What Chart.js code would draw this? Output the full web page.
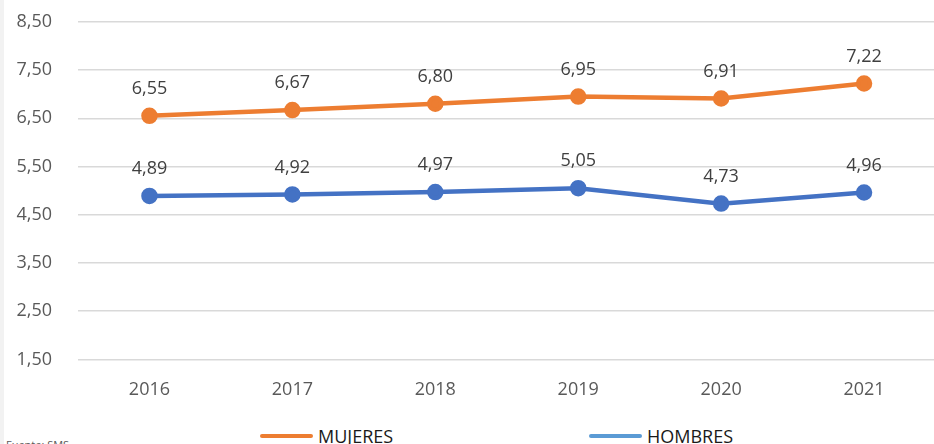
<!DOCTYPE html>
<html>
<head>
<meta charset="utf-8">
<script src="https://cdn.jsdelivr.net/npm/chart.js@4.4.1/dist/chart.umd.min.js"></script>
<style>
  html, body { margin: 0; padding: 0; width: 934px; height: 444px; overflow: hidden; background: #ffffff; font-family: "Open Sans", sans-serif; }
  #wrap { position: absolute; left: 0; top: -15px; width: 946px; height: 436px; }
  #edge { position: absolute; left: 0; top: 0; width: 4px; height: 444px; background: #f2f2f2; }
  .leg { position: absolute; top: 424px; display: flex; align-items: center; font-size: 18px; color: #1a1a1a; white-space: nowrap; }
  .leg .ln { display: inline-block; width: 53px; height: 4px; border-radius: 2px; margin-right: 5px; }
  #src { position: absolute; left: 6px; top: 437px; font-size: 11px; color: #595959; }
</style>
</head>
<body>
<div id="edge"></div>
<div id="wrap"><canvas id="c"></canvas></div>
<div class="leg" style="left:260px;"><span class="ln" style="background:#ED7D31"></span><span>MUJERES</span></div>
<div class="leg" style="left:589px;"><span class="ln" style="background:#5B9BD5"></span><span>HOMBRES</span></div>
<div id="src">Fuente: SMS</div>
<script>
const years = ["2016", "2017", "2018", "2019", "2020", "2021"];
const mujeres = [6.55, 6.67, 6.80, 6.95, 6.91, 7.22];
const hombres = [4.89, 4.92, 4.97, 5.05, 4.73, 4.96];
const yTicks = [1.5, 2.5, 3.5, 4.5, 5.5, 6.5, 7.5, 8.5];

const fmt = v => Number(v).toFixed(2).replace('.', ',');

const labelPlugin = {
  id: 'pointLabels',
  afterDatasetsDraw(chart) {
    const ctx = chart.ctx;
    ctx.save();
    ctx.font = '18px "Open Sans", sans-serif';
    ctx.fillStyle = '#404040';
    ctx.textAlign = 'center';
    ctx.textBaseline = 'middle';
    chart.data.datasets.forEach((ds, i) => {
      const meta = chart.getDatasetMeta(i);
      meta.data.forEach((pt, j) => {
        ctx.fillText(fmt(ds.data[j]), pt.x, pt.y - 27);
      });
    });
    ctx.restore();
  }
};

new Chart(document.getElementById('c'), {
  type: 'line',
  data: {
    labels: years,
    datasets: [
      { label: 'MUJERES', data: mujeres, borderColor: '#ED7D31', backgroundColor: '#ED7D31', borderWidth: 4.5, pointRadius: 6, pointHoverRadius: 6, tension: 0 },
      { label: 'HOMBRES', data: hombres, borderColor: '#4472C4', backgroundColor: '#4472C4', borderWidth: 4.5, pointRadius: 6, pointHoverRadius: 6, tension: 0 }
    ]
  },
  options: {
    responsive: true,
    maintainAspectRatio: false,
    animation: false,
    layout: { padding: { top: 6, right: 0, bottom: 0, left: 0 } },
    plugins: { legend: { display: false }, tooltip: { enabled: false } },
    scales: {
      x: {
        offset: true,
        grid: { display: false, drawTicks: false },
        border: { display: false },
        ticks: { color: '#595959', font: { family: '"Open Sans", sans-serif', size: 18 }, padding: 20 }
      },
      y: {
        min: 1.5, max: 8.5,
        afterBuildTicks(scale) { scale.ticks = yTicks.map(v => ({ value: v })); },
        afterFit(scale) { scale.width = 78; },
        grid: { color: '#d9d9d9', lineWidth: 1.5, drawTicks: false },
        border: { display: false },
        ticks: { color: '#595959', font: { family: '"Open Sans", sans-serif', size: 18 }, padding: 26, callback: v => fmt(v) }
      }
    }
  },
  plugins: [labelPlugin]
});
</script>
</body>
</html>
